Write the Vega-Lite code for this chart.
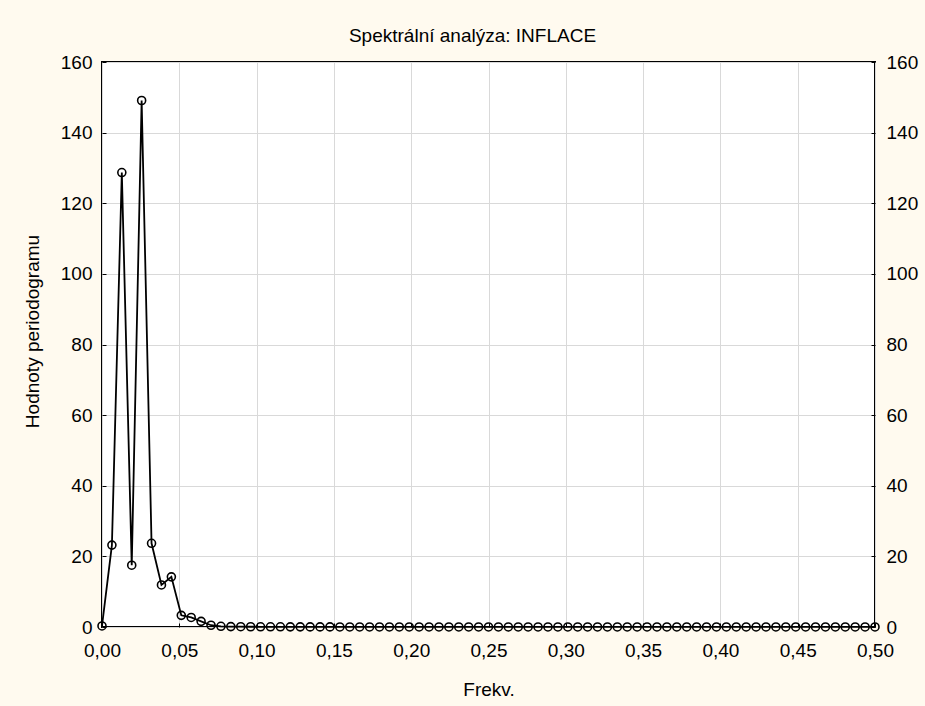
{
  "$schema": "https://vega.github.io/schema/vega-lite/v6.json",
  "width": 773,
  "height": 565,
  "autosize": "none",
  "padding": {"left": 102, "top": 62, "right": 50, "bottom": 79},
  "background": "#FFFAEF",
  "config": {
    "view": {"fill": "white", "stroke": "black", "strokeWidth": 2},
    "font": "Liberation Sans",
    "axis": {
      "domain": false,
      "grid": true,
      "gridColor": "#d9d9d9",
      "gridWidth": 1,
      "ticks": true,
      "tickColor": "black",
      "tickSize": -4,
      "tickWidth": 1,
      "labelFont": "Liberation Sans",
      "labelFontSize": 19,
      "labelColor": "black",
      "titleFont": "Liberation Sans",
      "titleFontSize": 19,
      "titleFontWeight": "normal",
      "titleColor": "black"
    }
  },
  "title": {
    "text": "Spektrální analýza: INFLACE",
    "font": "Liberation Sans",
    "fontSize": 19,
    "fontWeight": "normal",
    "color": "black",
    "dx": -16,
    "dy": 28,
    "offset": 20,
    "baseline": "alphabetic"
  },
  "data": {
    "values": [
      {"f": 0, "p": 0.3},
      {"f": 0.00641, "p": 23.2},
      {"f": 0.01282, "p": 128.7},
      {"f": 0.01923, "p": 17.5},
      {"f": 0.02564, "p": 149.1},
      {"f": 0.03205, "p": 23.7},
      {"f": 0.03846, "p": 11.9},
      {"f": 0.04487, "p": 14.2},
      {"f": 0.05128, "p": 3.3},
      {"f": 0.05769, "p": 2.7},
      {"f": 0.0641, "p": 1.6},
      {"f": 0.07051, "p": 0.5},
      {"f": 0.07692, "p": 0.2},
      {"f": 0.08333, "p": 0.12},
      {"f": 0.08974, "p": 0.09},
      {"f": 0.09615, "p": 0.07},
      {"f": 0.10256, "p": 0.06},
      {"f": 0.10897, "p": 0.05},
      {"f": 0.11538, "p": 0.05},
      {"f": 0.12179, "p": 0.04},
      {"f": 0.12821, "p": 0.04},
      {"f": 0.13462, "p": 0.03},
      {"f": 0.14103, "p": 0.03},
      {"f": 0.14744, "p": 0.03},
      {"f": 0.15385, "p": 0.02},
      {"f": 0.16026, "p": 0.02},
      {"f": 0.16667, "p": 0.02},
      {"f": 0.17308, "p": 0.02},
      {"f": 0.17949, "p": 0.02},
      {"f": 0.1859, "p": 0.02},
      {"f": 0.19231, "p": 0.01},
      {"f": 0.19872, "p": 0.01},
      {"f": 0.20513, "p": 0.01},
      {"f": 0.21154, "p": 0.01},
      {"f": 0.21795, "p": 0.01},
      {"f": 0.22436, "p": 0.01},
      {"f": 0.23077, "p": 0.01},
      {"f": 0.23718, "p": 0.01},
      {"f": 0.24359, "p": 0.01},
      {"f": 0.25, "p": 0.01},
      {"f": 0.25641, "p": 0.01},
      {"f": 0.26282, "p": 0.01},
      {"f": 0.26923, "p": 0.01},
      {"f": 0.27564, "p": 0.01},
      {"f": 0.28205, "p": 0.01},
      {"f": 0.28846, "p": 0.01},
      {"f": 0.29487, "p": 0.01},
      {"f": 0.30128, "p": 0.01},
      {"f": 0.30769, "p": 0.01},
      {"f": 0.3141, "p": 0.01},
      {"f": 0.32051, "p": 0.01},
      {"f": 0.32692, "p": 0.01},
      {"f": 0.33333, "p": 0.01},
      {"f": 0.33974, "p": 0.01},
      {"f": 0.34615, "p": 0.01},
      {"f": 0.35256, "p": 0.01},
      {"f": 0.35897, "p": 0.01},
      {"f": 0.36538, "p": 0.01},
      {"f": 0.37179, "p": 0.01},
      {"f": 0.37821, "p": 0.01},
      {"f": 0.38462, "p": 0.01},
      {"f": 0.39103, "p": 0.01},
      {"f": 0.39744, "p": 0.01},
      {"f": 0.40385, "p": 0.01},
      {"f": 0.41026, "p": 0.01},
      {"f": 0.41667, "p": 0.01},
      {"f": 0.42308, "p": 0.01},
      {"f": 0.42949, "p": 0.01},
      {"f": 0.4359, "p": 0.01},
      {"f": 0.44231, "p": 0.01},
      {"f": 0.44872, "p": 0.01},
      {"f": 0.45513, "p": 0.01},
      {"f": 0.46154, "p": 0.01},
      {"f": 0.46795, "p": 0.01},
      {"f": 0.47436, "p": 0.01},
      {"f": 0.48077, "p": 0.01},
      {"f": 0.48718, "p": 0.01},
      {"f": 0.49359, "p": 0.01},
      {"f": 0.5, "p": 0.01}
    ]
  },
  "encoding": {
    "x": {
      "field": "f",
      "type": "quantitative",
      "scale": {"domain": [0, 0.5], "nice": false, "zero": false},
      "axis": {
        "title": "Frekv.",
        "values": [0, 0.05, 0.1, 0.15, 0.2, 0.25, 0.3, 0.35, 0.4, 0.45, 0.5],
        "labelExpr": "replace(format(datum.value, '.2f'), '.', ',')",
        "labelPadding": 18,
        "labelFlush": false,
        "titleY": 68,
        "titleBaseline": "alphabetic"
      }
    }
  },
  "layer": [
    {
      "mark": {"type": "line", "color": "black", "strokeWidth": 1.8, "clip": false},
      "encoding": {
        "y": {
          "field": "p",
          "type": "quantitative",
          "scale": {"domain": [0, 160], "nice": false},
          "axis": {
            "orient": "left",
            "title": "Hodnoty periodogramu",
            "values": [0, 20, 40, 60, 80, 100, 120, 140, 160],
            "labelPadding": 14,
            "labelFlush": false,
            "titleX": -70,
            "titleY": 269,
            "titleBaseline": "middle"
          }
        }
      }
    },
    {
      "mark": {"type": "point", "shape": "circle", "filled": false, "color": "black", "size": 64, "strokeWidth": 1.6, "opacity": 1, "clip": false},
      "encoding": {
        "y": {
          "field": "p",
          "type": "quantitative",
          "axis": {
            "orient": "right",
            "title": null,
            "grid": false,
            "values": [0, 20, 40, 60, 80, 100, 120, 140, 160],
            "labelPadding": 15,
            "labelFlush": false
          }
        }
      }
    }
  ],
  "resolve": {"axis": {"y": "independent"}}
}
